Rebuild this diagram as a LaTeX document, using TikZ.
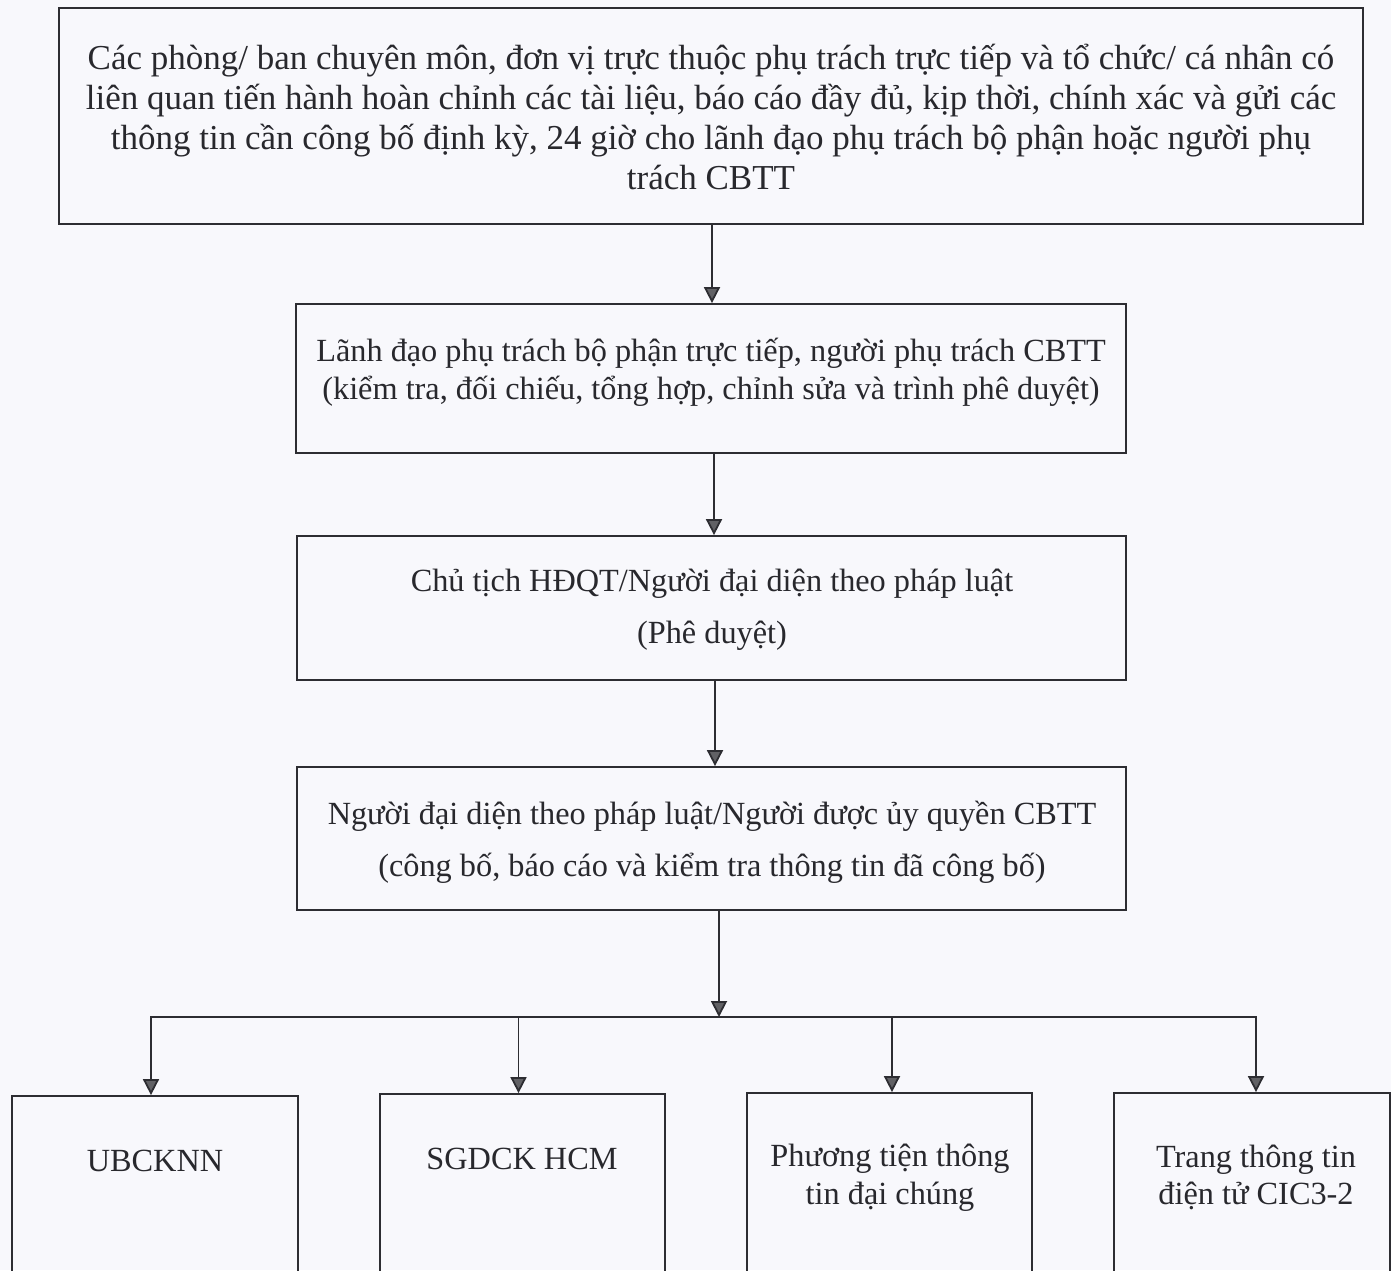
\documentclass[tikz,border=0pt]{standalone}
\usepackage{fontspec}
\setmainfont{Liberation Serif}
\usetikzlibrary{arrows.meta}
\definecolor{bg}{RGB}{248,248,252}
\definecolor{ink}{RGB}{45,45,50}
\definecolor{txt}{RGB}{40,40,45}
\tikzset{
  box/.style={draw=ink, line width=1.8pt, inner sep=0pt},
  lbl/.style={text=txt, align=center, inner sep=0pt, font=\fontsize{32.3}{40}\selectfont},
  arr/.style={draw=ink, line width=1.8pt, -{Triangle[width=16pt,length=16pt,fill=ink!75]}},
  ln/.style={draw=ink, line width=1.8pt}
}
\begin{document}
\begin{tikzpicture}[x=1pt,y=-1pt]
\clip (0,0) rectangle (1391,1270);
\fill[bg] (0,0) rectangle (1391,1270);
% boxes
\node[box, minimum width=1304pt, minimum height=216pt] (b1) at (711,116) {};
\node[box, minimum width=830pt, minimum height=149pt] (b2) at (711,378.5) {};
\node[box, minimum width=829pt, minimum height=144pt] (b3) at (711.5,608) {};
\node[box, minimum width=829pt, minimum height=143pt] (b4) at (711.5,838.5) {};
\node[box, minimum width=286pt, minimum height=260pt] (bA) at (155,1226) {};
\node[box, minimum width=285pt, minimum height=260pt] (bB) at (522.5,1224) {};
\node[box, minimum width=285pt, minimum height=260pt] (bC) at (889.5,1223) {};
\node[box, minimum width=276pt, minimum height=260pt] (bD) at (1252,1223) {};
% texts
\node[lbl, font=\fontsize{35}{40}\selectfont] (t1) at (711,117) {Các phòng/ ban chuyên môn, đơn vị trực thuộc phụ trách trực tiếp và tổ chức/ cá nhân có\\
liên quan tiến hành hoàn chỉnh các tài liệu, báo cáo đầy đủ, kịp thời, chính xác và gửi các\\
thông tin cần công bố định kỳ, 24 giờ cho lãnh đạo phụ trách bộ phận hoặc người phụ\\
trách CBTT};
\node[lbl, font=\fontsize{32.3}{38}\selectfont] (t2) at (711,372) {Lãnh đạo phụ trách bộ phận trực tiếp, người phụ trách CBTT\\
(kiểm tra, đối chiếu, tổng hợp, chỉnh sửa và trình phê duyệt)};
\node[lbl, font=\fontsize{32.3}{52}\selectfont] (t3) at (712,610) {Chủ tịch HĐQT/Người đại diện theo pháp luật\\
(Phê duyệt)};
\node[lbl, font=\fontsize{32.3}{52}\selectfont] (t4) at (712,842) {Người đại diện theo pháp luật/Người được ủy quyền CBTT\\
(công bố, báo cáo và kiểm tra thông tin đã công bố)};
\node[lbl] (tA) at (155,1161) {UBCKNN};
\node[lbl] (tB) at (522,1159) {SGDCK HCM};
\node[lbl, font=\fontsize{32.3}{38}\selectfont] (tC) at (890,1178) {Phương tiện thông\\tin đại chúng};
\node[lbl, font=\fontsize{32.3}{37}\selectfont] (tD) at (1256,1177) {Trang thông tin\\điện tử CIC3-2};
% connectors
\coordinate (j) at (719,1017);
\draw[arr] (b1.south -| 712,0) -- (b2.north -| 712,0);
\draw[arr] (b2.south -| 714,0) -- (b3.north -| 714,0);
\draw[arr] (b3.south -| 715,0) -- (b4.north -| 715,0);
\draw[arr] (b4.south -| j) -- (j);
\draw[arr] (j) -| ([xshift=-4pt]bA.north);
\draw[arr] (j) -| ([xshift=-4pt]bB.north);
\draw[arr] (j) -| ([xshift=2.5pt]bC.north);
\draw[arr] (j) -| ([xshift=4pt]bD.north);
\end{tikzpicture}
\end{document}
